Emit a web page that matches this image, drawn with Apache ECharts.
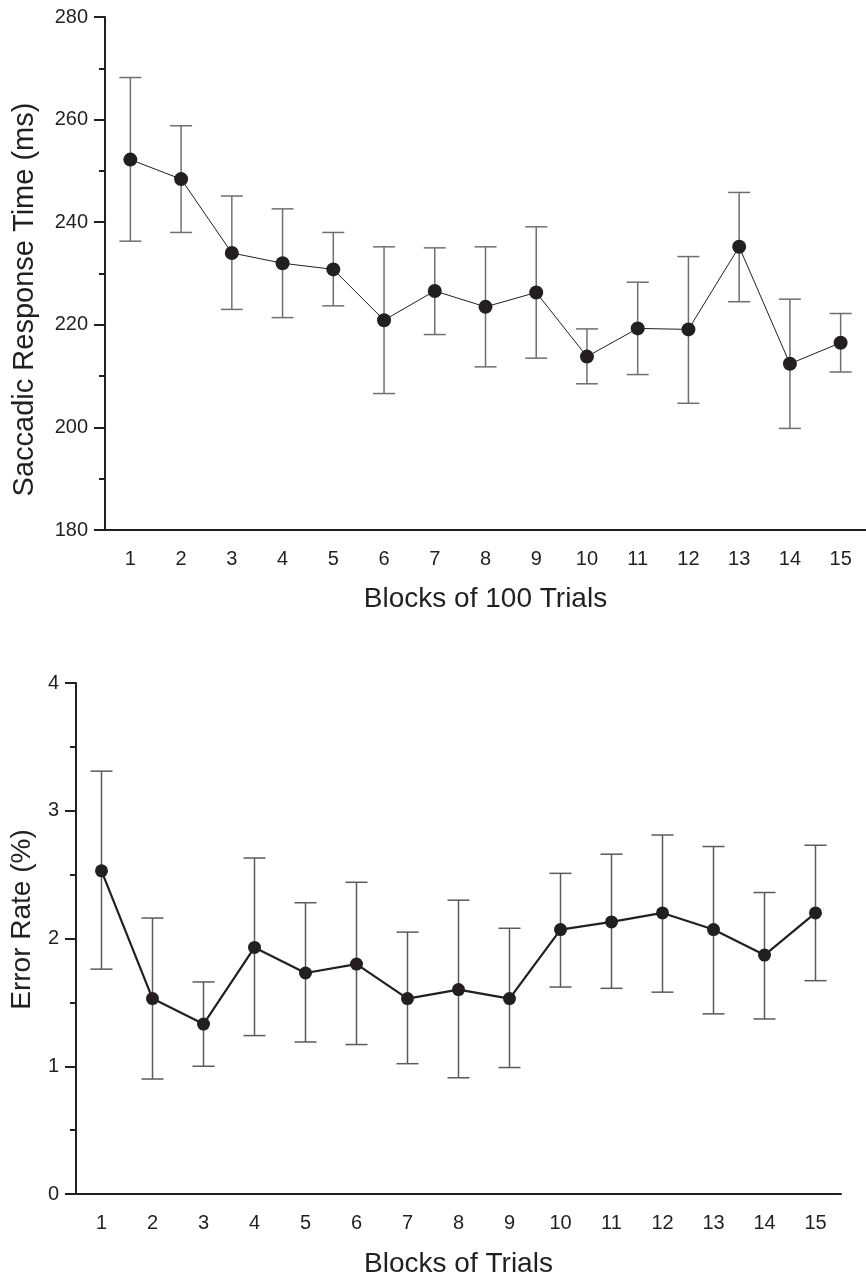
<!DOCTYPE html>
<html>
<head>
<meta charset="utf-8">
<style>
  html, body { margin: 0; padding: 0; background: #fff; }
  #chart { width: 866px; height: 1279px; }
</style>
<script src="https://cdn.jsdelivr.net/npm/echarts@6/dist/echarts.min.js"></script>
</head>
<body>
<div id="chart"></div>
<script>
// blocks 1..15 (same for both panels)
var blocks = ['1', '2', '3', '4', '5', '6', '7', '8', '9', '10', '11', '12', '13', '14', '15'];

// top panel: saccadic response time (ms), mean and error bar ends
var rtMean = [252.2, 248.4, 234.0, 232.0, 230.8, 220.9, 226.6, 223.5, 226.3, 213.8, 219.3, 219.1, 235.2, 212.4, 216.5];
var rtHigh = [268.2, 258.8, 245.1, 242.6, 238.0, 235.2, 235.0, 235.2, 239.1, 219.2, 228.3, 233.3, 245.8, 225.0, 222.2];
var rtLow  = [236.3, 238.0, 223.0, 221.4, 223.7, 206.6, 218.1, 211.8, 213.5, 208.5, 210.3, 204.7, 224.5, 199.8, 210.8];

// bottom panel: error rate (%)
var errMean = [2.53, 1.53, 1.33, 1.93, 1.73, 1.80, 1.53, 1.60, 1.53, 2.07, 2.13, 2.20, 2.07, 1.87, 2.20];
var errHigh = [3.31, 2.16, 1.66, 2.63, 2.28, 2.44, 2.05, 2.30, 2.08, 2.51, 2.66, 2.81, 2.72, 2.36, 2.73];
var errLow  = [1.76, 0.90, 1.00, 1.24, 1.19, 1.17, 1.02, 0.91, 0.99, 1.62, 1.61, 1.58, 1.41, 1.37, 1.67];

var ink = '#231f20';
var font = 'Liberation Sans, Arial, Helvetica, sans-serif';

function barData(low, high) {
  return low.map(function (v, i) { return [i, v, high[i]]; });
}

// error bar: vertical stem plus two caps
function errorBar(color, width) {
  return function (params, api) {
    var x = api.value(0);
    var lo = api.coord([x, api.value(1)]);
    var hi = api.coord([x, api.value(2)]);
    var half = 11;
    var style = { stroke: color, lineWidth: width };
    return {
      type: 'group',
      children: [
        { type: 'line', shape: { x1: hi[0], y1: hi[1], x2: lo[0], y2: lo[1] }, style: style },
        { type: 'line', shape: { x1: hi[0] - half, y1: hi[1], x2: hi[0] + half, y2: hi[1] }, style: style },
        { type: 'line', shape: { x1: lo[0] - half, y1: lo[1], x2: lo[0] + half, y2: lo[1] }, style: style }
      ]
    };
  };
}

function xAxis(idx, name, gap) {
  return {
    type: 'category',
    gridIndex: idx,
    data: blocks,
    boundaryGap: true,
    name: name,
    nameLocation: 'middle',
    nameGap: gap,
    nameTextStyle: { color: ink, fontSize: 28, fontFamily: font },
    axisLine: { lineStyle: { color: ink, width: 2 } },
    axisTick: { alignWithLabel: true, length: 11, lineStyle: { color: ink, width: 2 } },
    axisLabel: { color: ink, fontSize: 20, fontFamily: font, margin: 19, interval: 0 },
    splitLine: { show: false }
  };
}

function yAxis(idx, name, min, max, interval, gap, size, pad) {
  return {
    type: 'value',
    gridIndex: idx,
    min: min,
    max: max,
    interval: interval,
    name: name,
    nameLocation: 'middle',
    nameGap: gap,
    nameTextStyle: { color: ink, fontSize: size, fontFamily: font, padding: pad },
    axisLine: { show: true, lineStyle: { color: ink, width: 2 } },
    axisTick: { show: true, length: 11, lineStyle: { color: ink, width: 2 } },
    minorTick: { show: true, splitNumber: 2, length: 6, lineStyle: { color: ink, width: 2 } },
    axisLabel: { color: ink, fontSize: 20, fontFamily: font, margin: 17 },
    splitLine: { show: false }
  };
}

var myChart = echarts.init(document.getElementById('chart'));
var option = {
  backgroundColor: '#fff',
  animation: false,
  grid: [
    { left: 105, top: 17, width: 765, height: 513 },
    { left: 75, top: 683, width: 766, height: 512 }
  ],
  xAxis: [
    xAxis(0, 'Blocks of 100 Trials', 55),
    xAxis(1, 'Blocks of Trials', 56)
  ],
  yAxis: [
    yAxis(0, 'Saccadic Response Time (ms)', 180, 280, 20, 66, 29, [0, 52, 0, 0]),
    yAxis(1, 'Error Rate (%)', 0, 4, 1, 40, 28, [0, 0, 0, 38])
  ],
  series: [
    {
      type: 'custom',
      xAxisIndex: 0,
      yAxisIndex: 0,
      renderItem: errorBar('#6f6f6f', 1.5),
      data: barData(rtLow, rtHigh),
      z: 1
    },
    {
      type: 'line',
      xAxisIndex: 0,
      yAxisIndex: 0,
      data: rtMean,
      symbol: 'circle',
      symbolSize: 14,
      lineStyle: { color: ink, width: 1 },
      itemStyle: { color: ink },
      z: 3
    },
    {
      type: 'custom',
      xAxisIndex: 1,
      yAxisIndex: 1,
      renderItem: errorBar('#5a5a5a', 1.5),
      data: barData(errLow, errHigh),
      z: 1
    },
    {
      type: 'line',
      xAxisIndex: 1,
      yAxisIndex: 1,
      data: errMean,
      symbol: 'circle',
      symbolSize: 13,
      lineStyle: { color: ink, width: 2.2 },
      itemStyle: { color: ink },
      z: 3
    }
  ]
};
myChart.setOption(option);
</script>
</body>
</html>
